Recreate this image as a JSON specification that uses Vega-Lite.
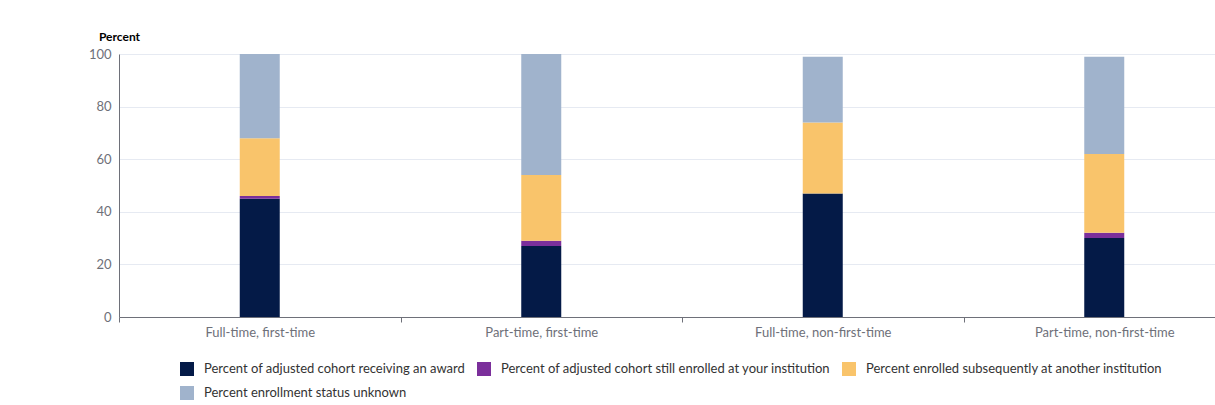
{
  "$schema": "https://vega.github.io/schema/vega-lite/v6.json",
  "autosize": {"type": "none"},
  "width": 1082,
  "height": 263,
  "padding": {"left": 119, "top": 54, "right": 14, "bottom": 88},
  "background": "white",
  "config": {"view": {"stroke": null}, "font": "Lato"},
  "data": {"values": [
    {"cat": "Full-time, first-time", "series": "Percent of adjusted cohort receiving an award", "ord": 1, "value": 45},
    {"cat": "Full-time, first-time", "series": "Percent of adjusted cohort still enrolled at your institution", "ord": 2, "value": 1},
    {"cat": "Full-time, first-time", "series": "Percent enrolled subsequently at another institution", "ord": 3, "value": 22},
    {"cat": "Full-time, first-time", "series": "Percent enrollment status unknown", "ord": 4, "value": 32},
    {"cat": "Part-time, first-time", "series": "Percent of adjusted cohort receiving an award", "ord": 1, "value": 27},
    {"cat": "Part-time, first-time", "series": "Percent of adjusted cohort still enrolled at your institution", "ord": 2, "value": 2},
    {"cat": "Part-time, first-time", "series": "Percent enrolled subsequently at another institution", "ord": 3, "value": 25},
    {"cat": "Part-time, first-time", "series": "Percent enrollment status unknown", "ord": 4, "value": 46},
    {"cat": "Full-time, non-first-time", "series": "Percent of adjusted cohort receiving an award", "ord": 1, "value": 47},
    {"cat": "Full-time, non-first-time", "series": "Percent of adjusted cohort still enrolled at your institution", "ord": 2, "value": 0},
    {"cat": "Full-time, non-first-time", "series": "Percent enrolled subsequently at another institution", "ord": 3, "value": 27},
    {"cat": "Full-time, non-first-time", "series": "Percent enrollment status unknown", "ord": 4, "value": 25},
    {"cat": "Part-time, non-first-time", "series": "Percent of adjusted cohort receiving an award", "ord": 1, "value": 30},
    {"cat": "Part-time, non-first-time", "series": "Percent of adjusted cohort still enrolled at your institution", "ord": 2, "value": 2},
    {"cat": "Part-time, non-first-time", "series": "Percent enrolled subsequently at another institution", "ord": 3, "value": 30},
    {"cat": "Part-time, non-first-time", "series": "Percent enrollment status unknown", "ord": 4, "value": 37}
  ]},
  "mark": {"type": "bar", "size": 40},
  "encoding": {
    "x": {
      "field": "cat", "type": "nominal", "sort": null,
      "scale": {"range": [0, 1126], "paddingInner": 0, "paddingOuter": 0},
      "axis": {
        "title": null, "labelAngle": 0, "labelColor": "#6E7079", "labelFontSize": 13,
        "labelPadding": 4, "domain": false, "tickColor": "#6E7079",
        "tickBand": "extent", "tickSize": 5, "grid": false
      }
    },
    "y": {
      "field": "value", "type": "quantitative", "stack": "zero",
      "scale": {"domain": [0, 100], "nice": false},
      "axis": {
        "title": "Percent", "titleAngle": 0, "titleX": 0, "titleY": -11,
        "titleAlign": "center", "titleBaseline": "bottom", "titleFontSize": 12,
        "titleFontWeight": "bold", "titleColor": "#000000",
        "values": [0, 20, 40, 60, 80, 100],
        "labelColor": "#6E7079", "labelFontSize": 13, "labelPadding": 8,
        "ticks": false, "domainColor": "#6E7079",
        "gridColor": {"condition": {"test": "datum.value === 0", "value": "#6E7079"}, "value": "#E6EAF2"},
        "grid": true
      }
    },
    "color": {
      "field": "series", "type": "nominal",
      "sort": [
        "Percent of adjusted cohort receiving an award",
        "Percent of adjusted cohort still enrolled at your institution",
        "Percent enrolled subsequently at another institution",
        "Percent enrollment status unknown"
      ],
      "scale": {
        "domain": [
          "Percent of adjusted cohort receiving an award",
          "Percent of adjusted cohort still enrolled at your institution",
          "Percent enrolled subsequently at another institution",
          "Percent enrollment status unknown"
        ],
        "range": ["#041A47", "#7B2F9B", "#F9C46B", "#A0B3CC"]
      },
      "legend": {
        "title": null, "orient": "none", "legendX": 61, "legendY": 308,
        "direction": "horizontal", "columns": 3,
        "symbolType": "square", "symbolSize": 196, "symbolStrokeWidth": 0,
        "symbolOpacity": 1,
        "labelFontSize": 13, "labelColor": "#333333", "labelOffset": 10,
        "columnPadding": 11, "rowPadding": 10, "labelLimit": 400
      }
    },
    "order": {"field": "ord", "type": "quantitative"}
  }
}
